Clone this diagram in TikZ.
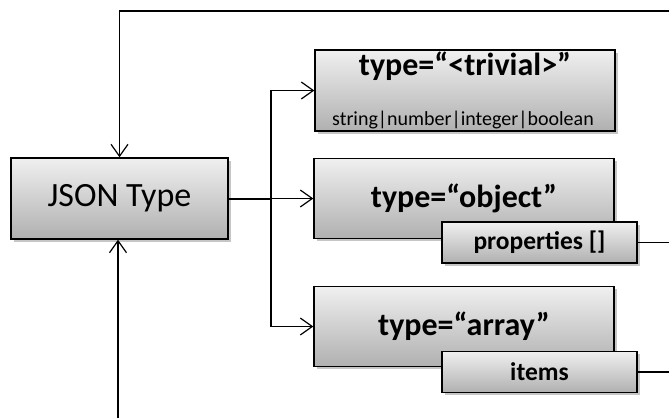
\documentclass[tikz,border=0pt]{standalone}
\usepackage{fontspec}
\setmainfont{Carlito}
\usetikzlibrary{arrows.meta,shadows}
\begin{document}
\begin{tikzpicture}[x=1pt,y=-1pt,
  box/.style={draw=black, line width=1.4pt, top color=gray!12, bottom color=gray!62,
    drop shadow={shadow xshift=2.5pt,shadow yshift=-2.5pt,opacity=0.45},
    inner sep=0pt, align=center},
  bigbox/.style={box, minimum width=300pt, minimum height=80pt},
  subbox/.style={box, minimum width=195pt, minimum height=41pt, font=\bfseries\fontsize{25.5}{28}\selectfont},
  conn/.style={line width=1.2pt},
  arr/.style={conn, -{Straight Barb[length=12pt,width=17pt,line width=1.2pt]}}]
\useasboundingbox (0,0) rectangle (669,418);
\node[box, minimum width=217pt, minimum height=81pt, font=\fontsize{34}{38}\selectfont] (json) at (119.5,198.5) {JSON Type};
\node[bigbox, minimum height=81pt] (triv) at (465,90.5) {};
\node[font=\bfseries\fontsize{32}{34}\selectfont] (trivt) at (465,66) {type=“<trivial>”};
\node[font=\fontsize{20}{22}\selectfont] (trivs) at (463,120) {string|number|integer|boolean};
\node[bigbox, font=\bfseries\fontsize{32}{34}\selectfont] (obj) at (464,198.5) {type=“object”};
\node[subbox] (props) at (539.5,242.5) {properties []};
\node[bigbox, font=\bfseries\fontsize{32}{34}\selectfont] (arrn) at (464,326.5) {type=“array”};
\node[subbox] (items) at (539.5,372) {items};
\coordinate (tr) at (669,11);
\coordinate (bt) at (118,418);
\coordinate (br) at (271,198.5);
\coordinate (pe) at (669,242.5);
\coordinate (ie) at (669,372);
\draw[arr] (tr) -| (json.north);
\draw[arr] (bt) -- (bt |- json.south);
\draw[conn, line width=2pt] (json.east) -- (br);
\draw[arr] (br) -- (obj.west);
\draw[arr] (br) |- (triv.west);
\draw[arr] (br) |- (arrn.west);
\draw[conn] (props.east) -- (pe);
\draw[conn] (items.east) -- (ie);
\end{tikzpicture}
\end{document}
